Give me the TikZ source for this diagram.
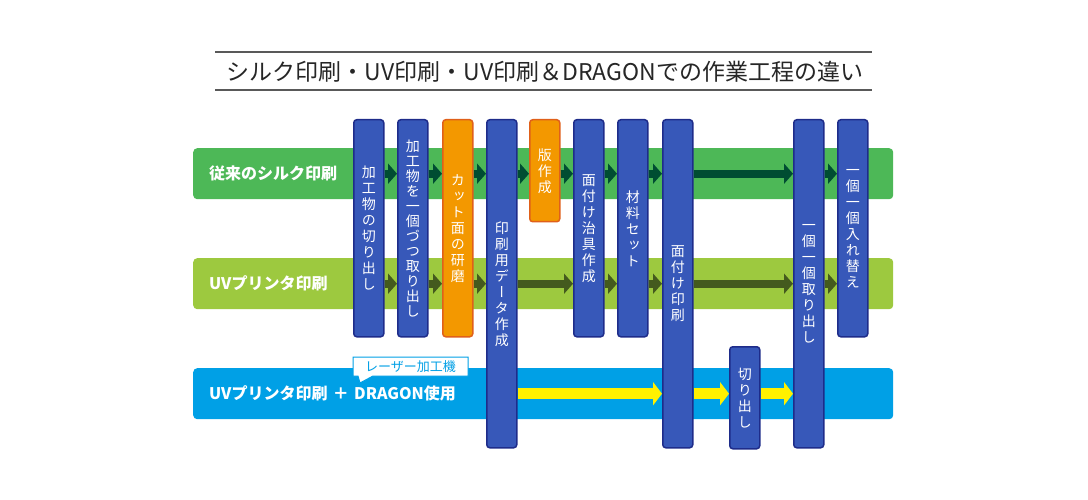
\documentclass[tikz,border=0pt]{standalone}
\usepackage{fontspec}
\setmainfont{Noto Sans CJK JP}
\newfontfamily\tatefont[RawFeature=+vert]{Noto Sans CJK JP}
\usetikzlibrary{arrows.meta}

\definecolor{silkgreen}{RGB}{77,184,87}
\definecolor{uvgreen}{RGB}{157,201,63}
\definecolor{dragonblue}{RGB}{0,160,230}
\definecolor{stepblue}{RGB}{55,88,185}
\definecolor{stepedge}{RGB}{30,44,138}
\definecolor{steporange}{RGB}{243,152,0}
\definecolor{orangeedge}{RGB}{224,96,26}
\definecolor{silkarrowcol}{RGB}{0,77,50}
\definecolor{uvarrowcol}{RGB}{68,90,30}
\definecolor{dragonarrowcol}{RGB}{255,241,0}

\begin{document}
\begin{tikzpicture}[x=1pt,y=-1pt,
  lane/.style={anchor=north west, rounded corners=4pt, minimum width=700pt,
    minimum height=51pt, text width=668pt, inner xsep=16pt, align=left,
    text=white, font=\bfseries\fontsize{16}{18}\selectfont},
  stepbox/.style={anchor=north west, rounded corners=3pt, fill=stepblue,
    draw=stepedge, line width=1.5pt, minimum width=30pt, inner sep=0pt,
    align=center, text=white, font=\tatefont\fontsize{14}{16}\selectfont},
  orangebox/.style={stepbox, fill=steporange, draw=orangeedge},
  silkarrow/.style={draw=silkarrowcol, line width=8pt, -{Triangle[length=9pt,width=20pt]}},
  uvarrow/.style={draw=uvarrowcol, line width=8pt, -{Triangle[length=9pt,width=20pt]}},
  dragonarrow/.style={draw=dragonarrowcol, line width=11pt, -{Triangle[length=9pt,width=23pt]}},
  titleline/.style={draw=black!65, line width=1.2pt}]
\useasboundingbox (0,0) rectangle (1088,500);

% --- title ---
\draw[titleline] (215,52) -- (872,52);
\draw[titleline] (215,90) -- (872,90);
\node[text=black!85, font=\fontsize{23}{25}\selectfont] (title) at (545,72)
  {シルク印刷・UV印刷・UV印刷＆DRAGONでの作業工程の違い};

% --- lanes ---
\node[lane, fill=silkgreen] (silk) at (193,148) {従来のシルク印刷};
\node[lane, fill=uvgreen] (uv) at (193,258) {UVプリンタ印刷};
\node[lane, fill=dragonblue] (dragon) at (193,368) {UVプリンタ印刷 ＋ DRAGON使用};

% --- callout ---
\filldraw[fill=white, draw=dragonblue, line width=1pt]
  (353,357) -- (468,357) -- (468,376) -- (373,376) -- (360,383) -- (358,376) -- (353,376) -- cycle;
\node[text=dragonblue, font=\fontsize{13}{15}\selectfont] (laser) at (410.5,366.5) {レーザー加工機};

% --- steps ---
\node[stepbox, minimum height=217pt] (cut) at (353,119) {加\\工\\物\\の\\切\\り\\出\\し};
\node[stepbox, minimum height=217pt, font=\tatefont\fontsize{14}{15}\selectfont] (pick) at (397,119)
  {加\\工\\物\\を\\一\\個\\づ\\つ\\取\\り\\出\\し};
\node[orangebox, minimum height=217pt] (polish) at (442,119) {カ\\ッ\\ト\\面\\の\\研\\磨};
\node[stepbox, minimum height=328pt] (data) at (486,119) {印\\刷\\用\\デ\\ー\\タ\\作\\成};
\node[orangebox, minimum height=102pt] (plate) at (529,119) {版\\作\\成};
\node[stepbox, minimum height=217pt] (jig) at (573,119) {面\\付\\け\\治\\具\\作\\成};
\node[stepbox, minimum height=217pt] (set) at (617,119) {材\\料\\セ\\ッ\\ト};
\node[stepbox, minimum height=328pt] (print) at (662,119) {面\\付\\け\\印\\刷};
\node[stepbox, minimum height=102pt] (trim) at (729,346) {切\\り\\出\\し};
\node[stepbox, minimum height=328pt] (take) at (793,119) {一\\個\\一\\個\\取\\り\\出\\し};
\node[stepbox, minimum height=217pt] (swap) at (837,119) {一\\個\\一\\個\\入\\れ\\替\\え};

% --- arrows ---
\foreach \a/\b in {cut/pick, pick/polish, polish/data, data/plate, plate/jig,
    jig/set, set/print, print/take, take/swap}
  \draw[silkarrow] (\a.east |- silk) -- (\b.west |- silk);
\foreach \a/\b in {cut/pick, pick/polish, polish/data, data/jig,
    jig/set, set/print, print/take, take/swap}
  \draw[uvarrow] (\a.east |- uv) -- (\b.west |- uv);
\foreach \a/\b in {data/print, print/trim, trim/take}
  \draw[dragonarrow] (\a.east |- dragon) -- (\b.west |- dragon);

\end{tikzpicture}
\end{document}
